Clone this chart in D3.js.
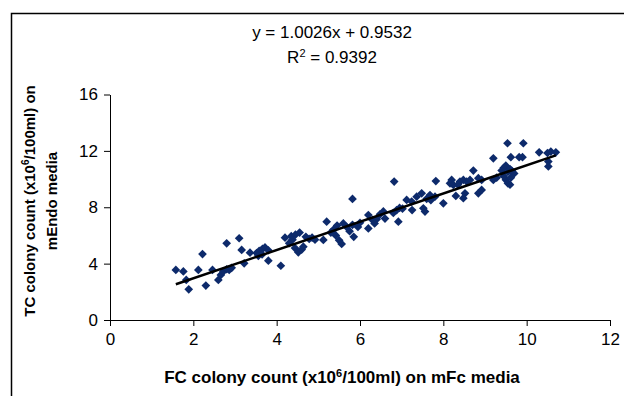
<!DOCTYPE html>
<html>
<head>
<meta charset="utf-8">
<script src="https://cdn.jsdelivr.net/npm/d3@7"></script>
<style>
  body { margin: 0; background: #fff; }
  text { font-family: Arial, "Liberation Sans", sans-serif; fill: #000; }
</style>
</head>
<body>
<div id="chart"></div>
<script>
// FC counts (x) and TC counts (y)
const fcCounts = [
  1.58, 1.76, 1.83, 1.89, 2.12, 2.22, 2.30, 2.46, 2.60, 2.66, 2.72, 2.80, 2.86, 2.92, 2.80, 3.10,
  3.16, 3.22, 3.36, 3.52, 3.58, 3.66, 3.72, 3.80, 3.80, 3.56, 3.65,
  4.10, 4.20, 4.35, 4.45, 4.55, 4.70, 4.44, 4.52, 4.60, 4.30, 4.38, 4.64, 4.78, 4.85, 4.92, 5.12,
  5.20, 5.36, 5.42, 5.50, 5.56, 5.60, 5.68, 5.75, 5.85, 5.82, 5.82, 5.30, 5.45, 5.95, 6.00,
  6.20, 6.20, 6.30, 6.40, 6.48, 6.56, 6.60, 6.35, 6.80, 6.88, 6.95, 7.02, 6.82, 6.92, 7.12, 7.24,
  7.36, 7.48, 7.52, 7.56, 7.68, 7.80, 7.82, 8.00, 8.16, 7.25, 7.60, 7.70,
  8.20, 8.24, 8.40, 8.48, 8.56, 8.64, 8.84, 8.92, 8.52, 8.48, 8.84, 8.92, 8.72, 8.35, 8.30,
  9.20, 9.20, 9.28, 9.40, 9.45, 9.50, 9.55, 9.60, 9.64, 9.70, 9.50, 9.55, 9.60, 9.62, 9.45, 9.54,
  9.62, 9.82, 9.90, 9.92, 10.30, 10.50, 10.58, 10.70, 10.52, 10.52
];
const tcCounts = [
  3.55, 3.45, 2.84, 2.18, 3.55, 4.68, 2.44, 3.55, 2.84, 3.20, 3.45, 3.60, 3.55, 3.70, 5.44, 5.80,
  4.97, 4.02, 4.78, 4.75, 4.90, 5.05, 5.15, 4.95, 4.21, 4.55, 4.65,
  3.85, 5.84, 5.95, 6.05, 6.20, 5.90, 5.10, 4.80, 5.00, 5.45, 5.70, 5.20, 5.75, 5.85, 5.70, 5.68,
  6.98, 6.40, 6.00, 5.65, 5.40, 6.85, 6.60, 6.30, 5.90, 6.75, 8.59, 6.20, 6.70, 6.60, 6.90,
  7.45, 6.50, 7.10, 7.15, 7.50, 7.70, 7.20, 6.85, 7.60, 7.80, 7.95, 7.90, 9.82, 6.98, 8.52, 8.40,
  8.75, 8.99, 7.93, 7.69, 8.87, 8.75, 9.86, 8.28, 9.70, 7.80, 8.60, 8.50,
  9.94, 9.58, 9.82, 9.94, 9.82, 9.94, 10.06, 9.94, 8.99, 8.64, 8.99, 9.23, 10.60, 9.60, 8.80,
  11.47, 9.94, 10.10, 10.60, 10.80, 10.95, 10.50, 10.70, 10.60, 10.40, 9.95, 9.70, 9.60, 10.10, 10.20, 12.54,
  11.55, 11.55, 11.55, 12.54, 11.90, 11.85, 11.95, 11.90, 11.24, 10.90
];
const xTicks = [0, 2, 4, 6, 8, 10, 12];
const yTicks = [0, 4, 8, 12, 16];
const slope = 1.0026;
const intercept = 0.9532;
const rSquared = '0.9392';

const width = 624;
const height = 396;
const margin = { top: 94.5, right: 14, bottom: 76, left: 110 };

const svg = d3.select('#chart')
  .append('svg')
  .attr('width', width)
  .attr('height', height);

// chart frame (runs off the right and bottom edges)
svg.append('rect')
  .attr('x', 11.5)
  .attr('y', 13.5)
  .attr('width', 640)
  .attr('height', 420)
  .attr('fill', 'none')
  .attr('stroke', '#000')
  .attr('stroke-width', 1.5);

const x = d3.scaleLinear().domain([0, 12]).range([margin.left, width - margin.right]);
const y = d3.scaleLinear().domain([0, 16]).range([height - margin.bottom, margin.top]);

// axes
const xAxis = svg.append('g')
  .attr('transform', `translate(0, ${y(0)})`)
  .call(d3.axisBottom(x).tickValues(xTicks).tickSize(6).tickPadding(7).tickSizeOuter(0));
const yAxis = svg.append('g')
  .attr('transform', `translate(${x(0)}, 0)`)
  .call(d3.axisLeft(y).tickValues(yTicks).tickSize(6).tickPadding(6).tickSizeOuter(0));

[xAxis, yAxis].forEach(a => {
  a.select('.domain').attr('stroke', '#000').attr('stroke-width', 1);
  a.selectAll('.tick line').attr('stroke', '#000');
  a.selectAll('.tick text')
    .style('font-family', 'Arial, "Liberation Sans", sans-serif')
    .style('font-size', '17px')
    .attr('fill', '#000');
});

// points
svg.append('g')
  .selectAll('path')
  .data(fcCounts.map((v, i) => [v, tcCounts[i]]))
  .enter()
  .append('path')
  .attr('d', d3.symbol(d3.symbolSquare, 38))
  .attr('transform', d => `translate(${x(d[0])}, ${y(d[1])}) rotate(45)`)
  .attr('fill', '#0d2a6b');

// linear trendline
const xMin = d3.min(fcCounts);
const xMax = d3.max(fcCounts);
svg.append('line')
  .attr('x1', x(xMin))
  .attr('y1', y(slope * xMin + intercept))
  .attr('x2', x(xMax))
  .attr('y2', y(slope * xMax + intercept))
  .attr('stroke', '#000')
  .attr('stroke-width', 2.5);

// equation and R squared
svg.append('text')
  .attr('x', 332)
  .attr('y', 37.5)
  .attr('text-anchor', 'middle')
  .style('font-size', '17px')
  .text(`y = ${slope}x + ${intercept}`);

const r2 = svg.append('text')
  .attr('x', 332)
  .attr('y', 63)
  .attr('text-anchor', 'middle')
  .style('font-size', '17px');
r2.append('tspan').text('R');
r2.append('tspan').attr('dy', -6).style('font-size', '11px').text('2');
r2.append('tspan').attr('dy', 6).text(` = ${rSquared}`);

// axis titles
const xTitle = svg.append('text')
  .attr('x', 342)
  .attr('y', 383)
  .attr('text-anchor', 'middle')
  .style('font-size', '17px')
  .style('font-weight', 'bold');
xTitle.append('tspan').text('FC colony count (x10');
xTitle.append('tspan').attr('dy', -6).style('font-size', '11px').text('6');
xTitle.append('tspan').attr('dy', 6).text('/100ml) on mFc media');

const yTitle = svg.append('text')
  .attr('transform', 'translate(35, 201) rotate(-90)')
  .attr('text-anchor', 'middle')
  .style('font-size', '15px')
  .style('font-weight', 'bold');
yTitle.append('tspan').text('TC colony count (x10');
yTitle.append('tspan').attr('dy', -6).style('font-size', '10px').text('6');
yTitle.append('tspan').attr('dy', 6).text('/100ml) on');

svg.append('text')
  .attr('transform', 'translate(57, 201) rotate(-90)')
  .attr('text-anchor', 'middle')
  .style('font-size', '15px')
  .style('font-weight', 'bold')
  .text('mEndo media');
</script>
</body>
</html>
